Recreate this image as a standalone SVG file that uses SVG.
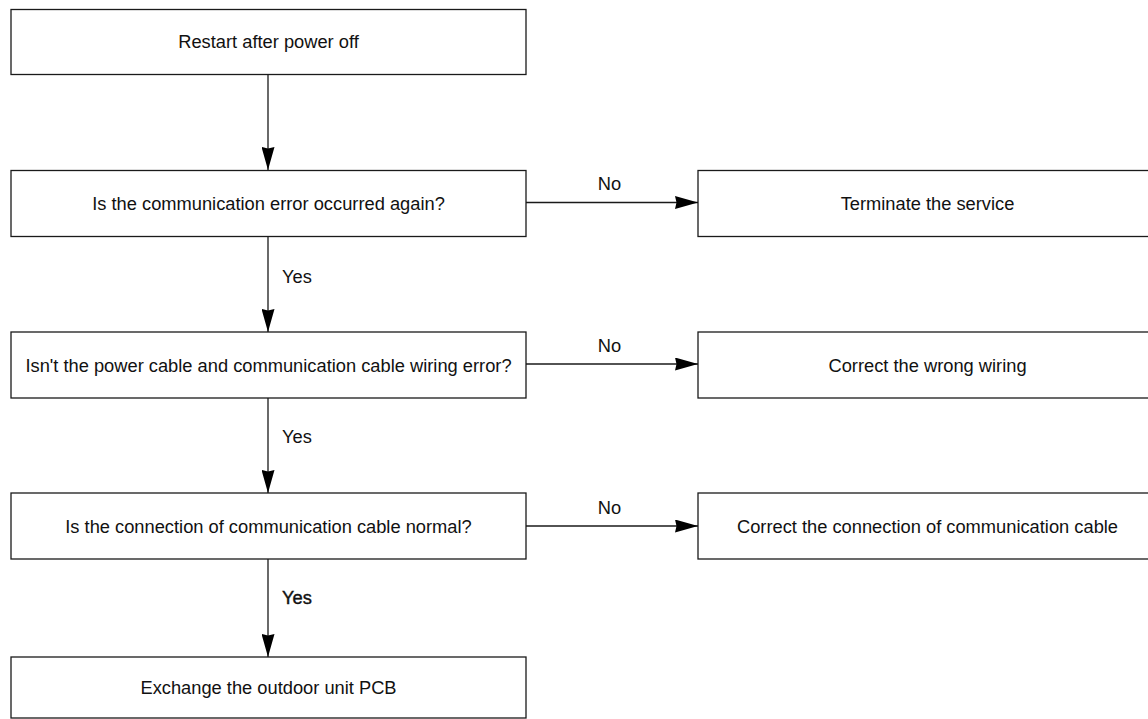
<svg xmlns="http://www.w3.org/2000/svg" width="1148" height="719" viewBox="0 0 1148 719">
  <style>
    .box { fill: #ffffff; stroke: #1a1a1a; stroke-width: 1.3; }
    .txt { font-family: "Liberation Sans", Arial, sans-serif; font-size: 18.3px; fill: #111111; }
    .mid { text-anchor: middle; }
    .wire { fill: none; stroke: #1a1a1a; stroke-width: 1.3; }
  </style>
  <defs>
    <marker id="head" viewBox="0 0 23 13" refX="23" refY="6.5" markerWidth="23" markerHeight="13" markerUnits="userSpaceOnUse" orient="auto">
      <path d="M0,0 L23,6.5 L0,13 L1.5,6.5 z" fill="#000000"/>
    </marker>
  </defs>

  <rect width="1148" height="719" fill="#ffffff"/>

  <!-- process steps, left column -->
  <g id="restart">
    <rect class="box" x="11" y="9.5" width="515" height="65"/>
    <text class="txt mid" x="268.5" y="48">Restart after power off</text>
  </g>
  <g id="error-again">
    <rect class="box" x="11" y="170.5" width="515" height="66"/>
    <text class="txt mid" x="268.5" y="210">Is the communication error occurred again?</text>
  </g>
  <g id="wiring-check">
    <rect class="box" x="11" y="332" width="515" height="66"/>
    <text class="txt mid" x="268.5" y="371.5">Isn't the power cable and communication cable wiring error?</text>
  </g>
  <g id="connection-check">
    <rect class="box" x="11" y="493" width="515" height="66"/>
    <text class="txt mid" x="268.5" y="532.5">Is the connection of communication cable normal?</text>
  </g>
  <g id="exchange-pcb">
    <rect class="box" x="11" y="657" width="515" height="61"/>
    <text class="txt mid" x="268.5" y="694">Exchange the outdoor unit PCB</text>
  </g>

  <!-- outcomes, right column -->
  <g id="terminate">
    <rect class="box" x="698" y="170.5" width="460" height="66"/>
    <text class="txt mid" x="927.5" y="210">Terminate the service</text>
  </g>
  <g id="fix-wiring">
    <rect class="box" x="698" y="332" width="460" height="66"/>
    <text class="txt mid" x="927.5" y="371.5">Correct the wrong wiring</text>
  </g>
  <g id="fix-connection">
    <rect class="box" x="698" y="493" width="460" height="66"/>
    <text class="txt mid" x="927.5" y="532.5">Correct the connection of communication cable</text>
  </g>

  <!-- connectors -->
  <g id="connectors">
    <line class="wire" x1="268" y1="74.5" x2="268" y2="170" marker-end="url(#head)"/>
    <line class="wire" x1="268" y1="236.5" x2="268" y2="332" marker-end="url(#head)"/>
    <line class="wire" x1="268" y1="398" x2="268" y2="493" marker-end="url(#head)"/>
    <line class="wire" x1="268" y1="559" x2="268" y2="657" marker-end="url(#head)" stroke-width="1.7"/>

    <line class="wire" x1="526" y1="202.5" x2="698" y2="202.5" marker-end="url(#head)"/>
    <line class="wire" x1="526" y1="364" x2="698" y2="364" marker-end="url(#head)"/>
    <line class="wire" x1="526" y1="526" x2="698" y2="526" marker-end="url(#head)"/>

    <text class="txt" x="282" y="283">Yes</text>
    <text class="txt" x="282" y="443">Yes</text>
    <text class="txt" x="282" y="603.5" stroke="#111111" stroke-width="0.4">Yes</text>

    <text class="txt mid" x="609.5" y="190">No</text>
    <text class="txt mid" x="609.5" y="351.5">No</text>
    <text class="txt mid" x="609.5" y="513.5">No</text>
  </g>
</svg>
